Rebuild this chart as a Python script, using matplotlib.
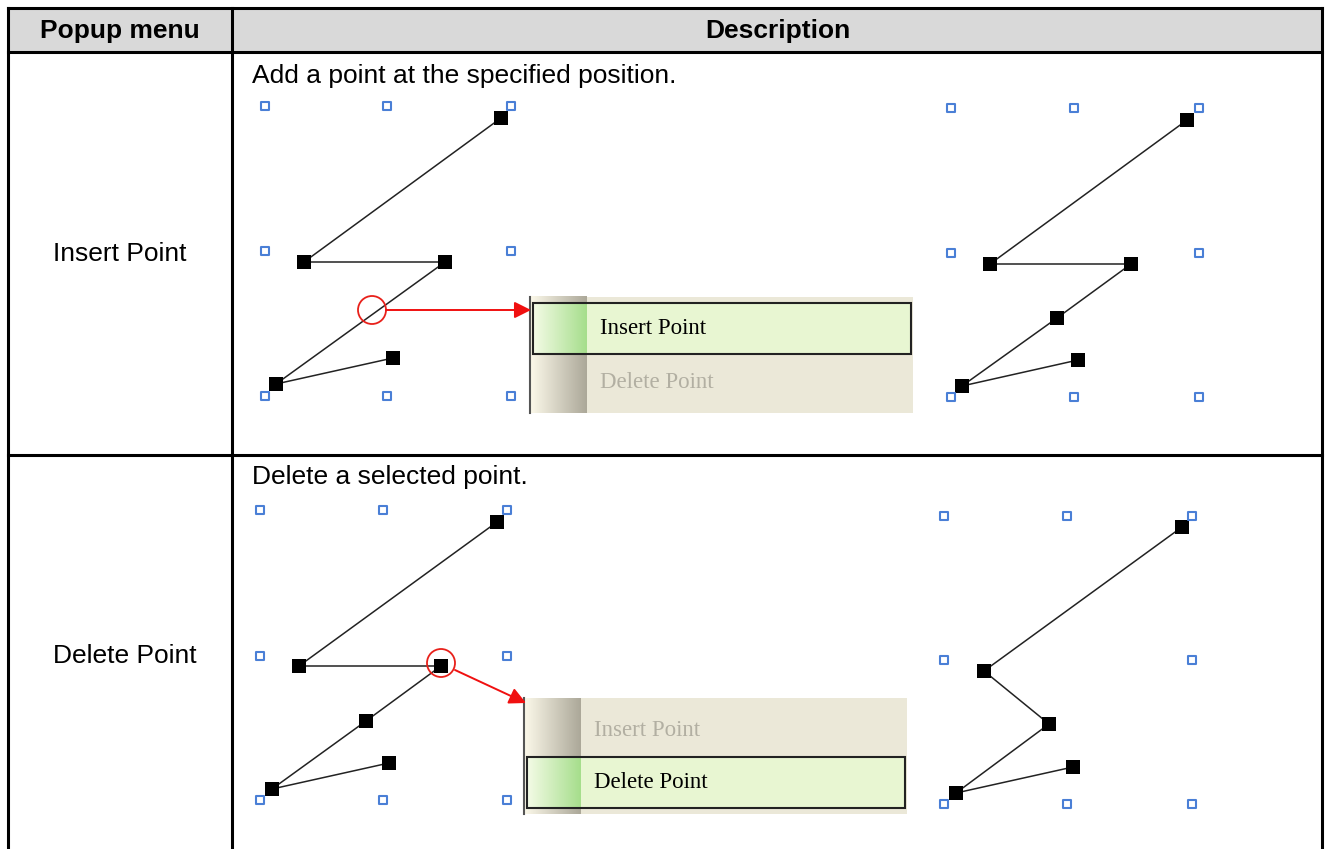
import matplotlib
matplotlib.use("Agg")
import matplotlib.pyplot as plt
import numpy as np
from matplotlib.patches import Rectangle, Circle, FancyArrowPatch

plt.rcParams['font.family'] = ['Liberation Sans', 'DejaVu Sans']

W, H = 1330, 849
fig = plt.figure(figsize=(W / 100, H / 100), dpi=100)
ax = fig.add_axes([0, 0, 1, 1])
ax.set_xlim(0, W)
ax.set_ylim(H, 0)
ax.axis('off')

# ---- table content ----
headers = ["Popup menu", "Description"]
row_names = ["Insert Point", "Delete Point"]
row_desc = ["Add a point at the specified position.", "Delete a selected point."]
menu_items = ["Insert Point", "Delete Point"]

# ---- diagram data (pixel coordinates in the picture) ----
ins_left_handles_x = [265, 387, 511, 265, 511, 265, 387, 511]
ins_left_handles_y = [106, 106, 106, 251, 251, 396, 396, 396]
ins_left_pts_x = [501, 304, 445, 276, 393]
ins_left_pts_y = [118, 262, 262, 384, 358]

ins_right_handles_x = [951, 1074, 1199, 951, 1199, 951, 1074, 1199]
ins_right_handles_y = [108, 108, 108, 253, 253, 397, 397, 397]
ins_right_pts_x = [1187, 990, 1131, 1057, 962, 1078]
ins_right_pts_y = [120, 264, 264, 318, 386, 360]

del_left_handles_x = [260, 383, 507, 260, 507, 260, 383, 507]
del_left_handles_y = [510, 510, 510, 656, 656, 800, 800, 800]
del_left_pts_x = [497, 299, 441, 366, 272, 389]
del_left_pts_y = [522, 666, 666, 721, 789, 763]

del_right_handles_x = [944, 1067, 1192, 944, 1192, 944, 1067, 1192]
del_right_handles_y = [516, 516, 516, 660, 660, 804, 804, 804]
del_right_pts_x = [1182, 984, 1049, 956, 1073]
del_right_pts_y = [527, 671, 724, 793, 767]

# table geometry
L, R, T, B = 8, 1322, 8, 852
col_x = 232
head_b = 52
row_b = 455

ax.add_patch(Rectangle((L, T), R - L, head_b - T, facecolor="#D9D9D9", edgecolor="none", zorder=0))
lw = 2.2
for (x0, y0, x1, y1) in [(L, T, R, T), (L, head_b, R, head_b), (L, row_b, R, row_b),
                         (L, T, L, B), (R, T, R, B), (col_x, T, col_x, B)]:
    ax.plot([x0, x1], [y0, y1], color="black", lw=lw, solid_capstyle="projecting", zorder=5)

FS = 19
ax.text(120, 31, headers[0], ha="center", va="center", fontsize=FS, fontweight="bold")
ax.text(778, 31, headers[1], ha="center", va="center", fontsize=FS, fontweight="bold")
ax.text(120, 254, row_names[0], ha="center", va="center", fontsize=FS)
ax.text(125, 656, row_names[1], ha="center", va="center", fontsize=FS)
ax.text(252, 76, row_desc[0], ha="left", va="center", fontsize=FS)
ax.text(252, 477, row_desc[1], ha="left", va="center", fontsize=FS)


def diagram(hx, hy, px, py):
    ax.plot(px, py, color="#222222", lw=1.1, zorder=3)
    ax.scatter(px, py, marker="s", s=100, color="black", zorder=4, linewidths=0)
    ax.scatter(hx, hy, marker="s", s=38, facecolor="white", edgecolor="#4A7FD6", linewidths=1.5, zorder=4)


diagram(ins_left_handles_x, ins_left_handles_y, ins_left_pts_x, ins_left_pts_y)
diagram(ins_right_handles_x, ins_right_handles_y, ins_right_pts_x, ins_right_pts_y)
diagram(del_left_handles_x, del_left_handles_y, del_left_pts_x, del_left_pts_y)
diagram(del_right_handles_x, del_right_handles_y, del_right_pts_x, del_right_pts_y)


def gradient(x0, x1, y0, y1, c0, c1, z):
    c0 = np.array(matplotlib.colors.to_rgb(c0))
    c1 = np.array(matplotlib.colors.to_rgb(c1))
    t = np.linspace(0, 1, 64)[None, :, None]
    img = c0 + (c1 - c0) * t
    ax.imshow(img, extent=(x0, x1, y1, y0), aspect="auto", zorder=z, interpolation="bilinear")


def menu(x0, y0, active):
    w, h = 383, 116
    gut = 57
    ax.add_patch(Rectangle((x0, y0), w, h, facecolor="#EBE8D8", edgecolor="none", zorder=1))
    gradient(x0, x0 + gut, y0, y0 + h, "#FCF9EA", "#ACA899", 2)
    ax.plot([x0, x0], [y0, y0 + h], color="#555555", lw=1.5, zorder=3)
    item_y = [y0 + 32, y0 + 85]
    for i, name in enumerate(menu_items):
        if i == active:
            hy0, hy1 = item_y[i] - 26, item_y[i] + 25
            ax.add_patch(Rectangle((x0 + 3, hy0), w - 5, hy1 - hy0, facecolor="#E8F6D2",
                                   edgecolor="none", zorder=2.5))
            gradient(x0 + 3, x0 + gut, hy0, hy1, "#F4FBE6", "#A6DE8C", 2.7)
            ax.add_patch(Rectangle((x0 + 3, hy0), w - 5, hy1 - hy0, facecolor="none",
                                   edgecolor="#222222", lw=1.5, zorder=3))
            col = "black"
        else:
            col = "#B2AFA2"
        ax.text(x0 + 70, item_y[i], name, ha="left", va="center", fontsize=16.5,
                family=["Liberation Serif", "DejaVu Serif"], color=col, zorder=4)


menu(530, 297, 0)
menu(524, 698, 1)

# red circles and arrows
ax.add_patch(Circle((372, 310), 14, facecolor="none", edgecolor="#E8201A", lw=1.3, zorder=5))
ax.add_patch(Circle((441, 663), 14, facecolor="none", edgecolor="#E8201A", lw=1.3, zorder=5))
ax.add_patch(FancyArrowPatch((386, 310), (531, 310), arrowstyle="-|>,head_length=10,head_width=5",
                             color="#F01010", lw=1.4, zorder=5, shrinkA=0, shrinkB=0))
ax.add_patch(FancyArrowPatch((455, 670), (526, 703), arrowstyle="-|>,head_length=10,head_width=5",
                             color="#F01010", lw=1.4, zorder=5, shrinkA=0, shrinkB=0))

fig.savefig("out.png", dpi=100)
